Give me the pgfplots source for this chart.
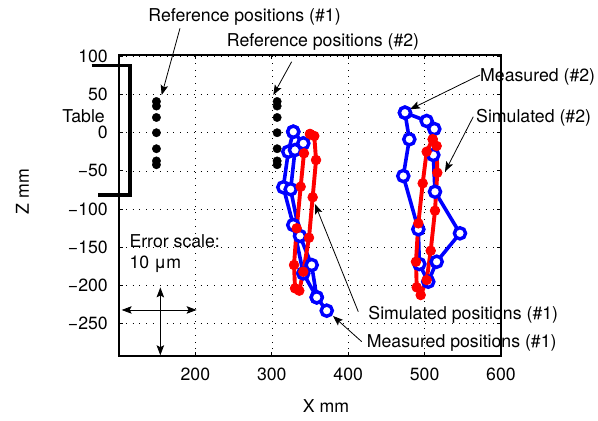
\documentclass[border=0pt]{standalone}
\usepackage{pgfplots}
\pgfplotsset{compat=1.18}
\usepackage{fontspec}
\setmainfont{TeX Gyre Heros}
\usetikzlibrary{arrows.meta}
\newcommand\ff{\fontsize{17.7bp}{21bp}\selectfont}
\definecolor{mblue}{RGB}{0,0,255}
\definecolor{mred}{RGB}{255,0,0}
\tikzset{arr/.style={line width=0.8bp,-{Stealth[length=10bp,width=7.5bp,inset=2bp]}},
         darr/.style={line width=0.8bp,{Stealth[length=10bp,width=7.5bp,inset=2bp]}-{Stealth[length=10bp,width=7.5bp,inset=2bp]}}}
\begin{document}
\begin{tikzpicture}[font=\ff]
\useasboundingbox (-119bp,-65bp) rectangle (479bp,356bp);
\begin{axis}[
  at={(0,0)}, anchor=south west,
  scale only axis, width=382bp, height=301bp,
  xmin=100, xmax=600, ymin=-293, ymax=102,
  xtick={200,300,400,500,600},
  xticklabels={200,300,400,500,600},
  ytick={-250,-200,-150,-100,-50,0,50,100},
  yticklabels={−250,−200,−150,−100,−50,0,50,100},
  tick label style={font=\ff},
  xticklabel style={inner sep=0pt, anchor=north, yshift=-11.5bp},
  yticklabel style={inner sep=0pt, anchor=east, xshift=-11bp},
  grid=major,
  major grid style={black, line width=0.5bp, dash pattern=on 0.8bp off 6bp},
  tick align=inside, major tick length=4bp,
  tick style={black, line width=0.8bp},
  axis line style={line width=1.2bp},
  clip=false,
]
% reference positions
\addplot[only marks, mark=*, mark size=4.2bp, black] coordinates {
(149,41) (149,35) (149,20) (149,0) (149,-21) (149,-37) (149,-42)};
\addplot[only marks, mark=*, mark size=4.2bp, black] coordinates {
(307,41) (307,35) (307,20) (307,0) (307,-21) (307,-37) (307,-42)};
% measured (#1)
\addplot[mblue, line width=3.6bp, mark=*, mark size=5.6bp, mark options={fill=white, draw=mblue, line width=3.4bp}] coordinates {
(328.1,1.3) (321.6,-24.9) (315.1,-71.6) (328.1,-121.1) (341.2,-184.5) (358.8,-216.0) (371.9,-233.5) (358.8,-216.0) (352.2,-173.6) (336.9,-135.5) (324.7,-74.2) (330.4,-22.7) (341.2,-13.9) (328.1,1.3)};
% measured (#2)
\addplot[mblue, line width=3.6bp, mark=*, mark size=5.6bp, mark options={fill=white, draw=mblue, line width=3.4bp}] coordinates {
(474.3,26.3) (502.7,15.4) (512.7,4.9) (511.4,-29.2) (513.6,-77.4) (546.3,-132.0) (515.8,-169.3) (504.8,-195.5) (493.1,-172.3) (491.8,-126.7) (472.1,-56.8) (480.0,-8.6) (474.3,26.3)};
% simulated (#1)
\addplot[mred, line width=3.9bp, mark=*, mark size=4.8bp, mark options={fill=mred, draw=mred, line width=0.8bp}] coordinates {
(350.0,-1.7) (342.1,-27.0) (337.8,-70.8) (332.6,-125.4) (329.1,-173.6) (330.4,-204.2) (336.0,-207.3) (341.2,-182.4) (348.7,-137.8) (353.5,-84.7) (357.9,-35.8) (355.6,-4.3) (350.0,-1.7)};
% simulated (#2)
\addplot[mred, line width=3.9bp, mark=*, mark size=4.8bp, mark options={fill=mred, draw=mred, line width=0.8bp}] coordinates {
(510.6,-8.6) (502.7,-24.9) (497.5,-66.4) (491.8,-118.9) (488.7,-169.3) (489.7,-202.9) (494.9,-213.0) (502.7,-193.3) (508.0,-154.8) (513.6,-102.3) (516.6,-52.5) (515.8,-17.4) (510.6,-8.6)};
% annotations
\node[anchor=base west, inner sep=0pt] at (axis cs:138.3,146.2) {Reference positions (\#1)};
\node[anchor=base west, inner sep=0pt] at (axis cs:241.0,113.4) {Reference positions (\#2)};
\node[anchor=base west, inner sep=0pt] at (axis cs:572.5,67.5) {Measured (\#2)};
\node[anchor=base west, inner sep=0pt] at (axis cs:567.3,12.8) {Simulated (\#2)};
\node[anchor=base west, inner sep=0pt] at (axis cs:426.3,-245.2) {Simulated positions (\#1)};
\node[anchor=base west, inner sep=0pt] at (axis cs:424.2,-281.6) {Measured positions (\#1)};
\node[anchor=base west, inner sep=0pt] at (axis cs:113.5,-150.0) {Error scale:};
\node[anchor=base west, inner sep=0pt] at (axis cs:113.5,-178.8) {10 μm};
\node[anchor=base east, inner sep=0pt] at (axis cs:81.7,12.8) {Table};
\draw[arr] (axis cs:179.8,137.0) -- (axis cs:155.9,49.5);
\draw[arr] (axis cs:326.0,93.2) -- (axis cs:302.0,49.5);
\draw[arr] (axis cs:572.5,75.8) -- (axis cs:480.9,30.7);
\draw[arr] (axis cs:563.7,21.0) -- (axis cs:526.7,-51.1);
\draw[arr] (axis cs:413.2,-234.9) -- (axis cs:356.5,-93.5);
\draw[arr] (axis cs:417.7,-274.2) -- (axis cs:380.1,-240.5);
\draw[darr] (axis cs:103.5,-232.6) -- (axis cs:201.6,-232.6);
\draw[darr] (axis cs:154.1,-203) -- (axis cs:154.1,-292);
\draw[line width=3.5bp, line join=miter] (axis cs:64.3,88) -- (axis cs:114.4,88) -- (axis cs:114.4,-81.7) -- (axis cs:72.9,-81.7);
\node[rotate=90] at (axis cs:-26.3,-77.1) {Z mm};
\node at (axis cs:370.9,-358.6) {X mm};
\end{axis}
\end{tikzpicture}
\end{document}
